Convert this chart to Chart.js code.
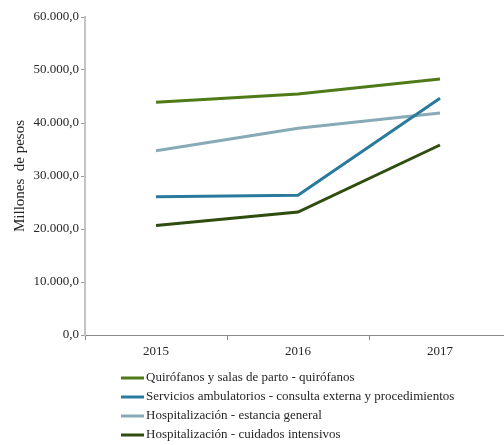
<!DOCTYPE html>
<html>
<head>
<meta charset="utf-8">
<script src="https://cdn.jsdelivr.net/npm/chart.js@4/dist/chart.umd.min.js"></script>
<style>
html,body{margin:0;padding:0;background:#fff;overflow:hidden;}
#wrap{width:504px;height:445px;overflow:hidden;position:relative;}
#box{width:512px;height:445px;position:absolute;left:0;top:0;}
</style>
</head>
<body>
<div id="wrap"><div id="box"><canvas id="c" width="512" height="445"></canvas></div></div>
<script>
const categories = ["2015", "2016", "2017"];
const seriesNames = [
  "Quirófanos y salas de parto - quirófanos",
  "Servicios ambulatorios - consulta externa y procedimientos",
  "Hospitalización - estancia general",
  "Hospitalización - cuidados intensivos"
];
const quirofanos = [43900, 45450, 48300];
const ambulatorios = [26100, 26350, 44650];
const estancia = [34780, 39000, 41900];
const intensivos = [20650, 23200, 35850];
const yTicks = [0, 10000, 20000, 30000, 40000, 50000, 60000];
const colors = ["#4f7a17", "#2a7a9e", "#86aab6", "#2e4d0e"];

const FONT = "'Liberation Serif', 'Times New Roman', serif";

function fmt(v){
  const s = Math.round(v).toString().replace(/\B(?=(\d{3})+(?!\d))/g, ".");
  return s + ",0";
}

const legendPlugin = {
  id: 'customLegend',
  afterDraw(chart){
    const ctx = chart.ctx;
    ctx.save();
    ctx.font = "13px " + FONT;
    ctx.textBaseline = "middle";
    chart.data.datasets.forEach((ds, i) => {
      const y = 378 + i * 19;
      ctx.strokeStyle = ds.borderColor;
      ctx.lineWidth = 3;
      ctx.beginPath();
      ctx.moveTo(121, y);
      ctx.lineTo(144, y);
      ctx.stroke();
      ctx.fillStyle = "#262626";
      ctx.fillText(ds.label, 146, y);
    });
    ctx.restore();
  }
};

new Chart(document.getElementById('c'), {
  type: 'line',
  data: {
    labels: categories,
    datasets: [quirofanos, ambulatorios, estancia, intensivos].map((d, i) => ({
      label: seriesNames[i],
      data: d,
      borderColor: colors[i],
      backgroundColor: colors[i],
      borderWidth: 3,
      pointRadius: 0,
      tension: 0,
      fill: false
    }))
  },
  options: {
    responsive: false,
    animation: false,
    devicePixelRatio: 1,
    layout: { padding: { top: 17, right: 1, left: 11, bottom: 0 } },
    plugins: { legend: { display: false }, tooltip: { enabled: false } },
    scales: {
      x: {
        offset: true,
        grid: { offset: true, drawOnChartArea: false, tickLength: 5, color: "#888" },
        border: { color: "#888", width: 1 },
        ticks: { color: "#262626", font: { family: FONT, size: 13 }, padding: 4 },
        afterFit(s){ s.height = 110; }
      },
      y: {
        min: 0, max: 60000,
        afterBuildTicks(s){ s.ticks = yTicks.map(v => ({ value: v })); },
        grid: { drawOnChartArea: false, tickLength: 4, color: "#999" },
        border: { color: "#c4c4c4", width: 2 },
        ticks: { color: "#262626", font: { family: FONT, size: 13 }, padding: 2, callback: v => fmt(v) },
        title: { display: true, text: "Millones  de pesos", color: "#262626", font: { family: FONT, size: 15 }, padding: { top: 0, bottom: 0 } },
        afterFit(s){ s.width = 74; }
      }
    }
  },
  plugins: [legendPlugin]
});
</script>
</body>
</html>
